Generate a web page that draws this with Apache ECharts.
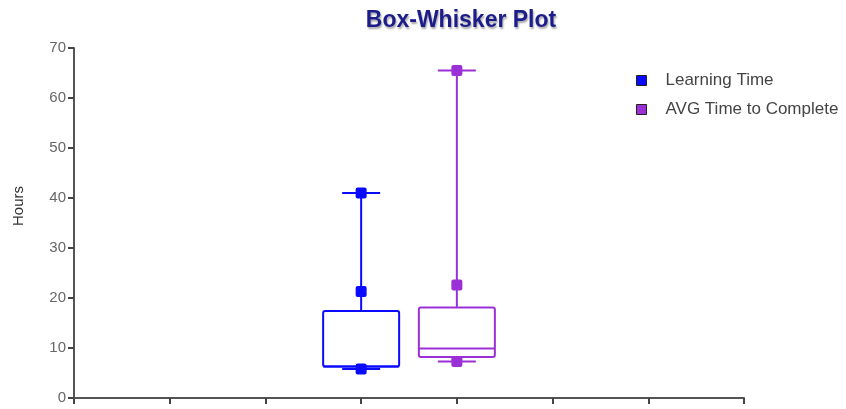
<!DOCTYPE html>
<html>
<head>
<meta charset="utf-8">
<script src="https://cdn.jsdelivr.net/npm/echarts@6/dist/echarts.min.js"></script>
<style>
  html, body { margin: 0; padding: 0; background: #fff; }
  #chart { width: 846px; height: 409px; }
</style>
</head>
<body>
<div id="chart"></div>
<script>
// series names and where each box sits on the x axis
const seriesNames = ['Learning Time', 'AVG Time to Complete'];
const xPositions = [3, 4];
// box stats (hours)
const mins = [5.8, 7.3];
const q1s = [6.3, 8.2];
const medians = [6.3, 9.9];
const q3s = [17.4, 18.1];
const maxs = [41, 65.5];
const means = [21.3, 22.6];
const yTicks = [0, 10, 20, 30, 40, 50, 60, 70];

const colors = ['#0a0aff', '#9b30d6'];

const chart = echarts.init(document.getElementById('chart'));

function renderBox(params, api) {
  const x = api.value(0);
  const pMin = api.coord([x, api.value(1)]);
  const pQ1 = api.coord([x, api.value(2)]);
  const pMed = api.coord([x, api.value(3)]);
  const pQ3 = api.coord([x, api.value(4)]);
  const pMax = api.coord([x, api.value(5)]);
  const pMean = api.coord([x, api.value(6)]);
  const color = api.visual('color');
  const halfBox = 38, halfCap = 19, sq = 11;
  const line = { stroke: color, lineWidth: 2, fill: null };
  function square(p) {
    return { type: 'rect', shape: { x: p[0] - sq / 2, y: p[1] - sq / 2, width: sq, height: sq, r: 2 },
      style: { fill: color } };
  }
  return {
    type: 'group',
    children: [
      { type: 'line', shape: { x1: pMax[0], y1: pMax[1], x2: pQ3[0], y2: pQ3[1] }, style: line },
      { type: 'line', shape: { x1: pQ1[0], y1: pQ1[1], x2: pMin[0], y2: pMin[1] }, style: line },
      { type: 'line', shape: { x1: pMax[0] - halfCap, y1: pMax[1], x2: pMax[0] + halfCap, y2: pMax[1] }, style: line },
      { type: 'line', shape: { x1: pMin[0] - halfCap, y1: pMin[1], x2: pMin[0] + halfCap, y2: pMin[1] }, style: line },
      { type: 'rect', shape: { x: pQ3[0] - halfBox, y: pQ3[1], width: halfBox * 2, height: pQ1[1] - pQ3[1], r: 2 },
        style: { stroke: color, lineWidth: 2, fill: '#fff' } },
      { type: 'line', shape: { x1: pMed[0] - halfBox, y1: pMed[1], x2: pMed[0] + halfBox, y2: pMed[1] }, style: line },
      square(pMax),
      square(pMean),
      square(pMin)
    ]
  };
}

const series = seriesNames.map(function (name, i) {
  return {
    name: name,
    type: 'custom',
    renderItem: renderBox,
    itemStyle: { color: colors[i] },
    encode: { x: 0, y: [1, 2, 3, 4, 5, 6] },
    data: [[xPositions[i], mins[i], q1s[i], medians[i], q3s[i], maxs[i], means[i]]]
  };
});

const option = {
  title: {
    text: 'Box-Whisker Plot',
    left: 456,
    textAlign: 'center',
    top: 4,
    textStyle: {
      fontFamily: 'Liberation Sans',
      fontSize: 23,
      fontWeight: 'bold',
      color: '#1c1c8a',
      textShadowColor: 'rgba(0,0,0,0.35)',
      textShadowBlur: 2,
      textShadowOffsetX: 1,
      textShadowOffsetY: 2
    }
  },
  legend: {
    orient: 'vertical',
    left: 631,
    top: 67,
    itemWidth: 10,
    itemHeight: 10,
    itemGap: 12,
    icon: 'rect',
    data: seriesNames.map(function (n, i) {
      return { name: n, itemStyle: { color: colors[i], borderColor: '#222', borderWidth: 1 } };
    }),
    textStyle: { fontFamily: 'Liberation Sans', fontSize: 17, color: '#444', padding: [0, 0, 0, 14] }
  },
  graphic: [{
    type: 'text',
    x: 11,
    y: 226,
    rotation: Math.PI / 2,
    style: { text: 'Hours', fontFamily: 'Liberation Sans', fontSize: 15, fill: '#333' }
  }],
  grid: { left: 74, right: 102, top: 48, bottom: 11 },
  xAxis: {
    type: 'value',
    min: 0,
    max: 7,
    interval: 1,
    splitLine: { show: false },
    axisLine: { lineStyle: { color: '#555', width: 2 } },
    axisTick: { show: true, length: 6, lineStyle: { color: '#444', width: 2 } },
    axisLabel: { show: false }
  },
  yAxis: {
    type: 'value',
    min: yTicks[0],
    max: yTicks[yTicks.length - 1],
    interval: 10,
    splitLine: { show: false },
    axisLine: { show: true, lineStyle: { color: '#555', width: 2 } },
    axisTick: { show: true, length: 6, lineStyle: { color: '#444', width: 2 } },
    axisLabel: { margin: 8, fontFamily: 'Liberation Sans', fontSize: 15, color: '#666' }
  },
  series: series
};

chart.setOption(option);
</script>
</body>
</html>
